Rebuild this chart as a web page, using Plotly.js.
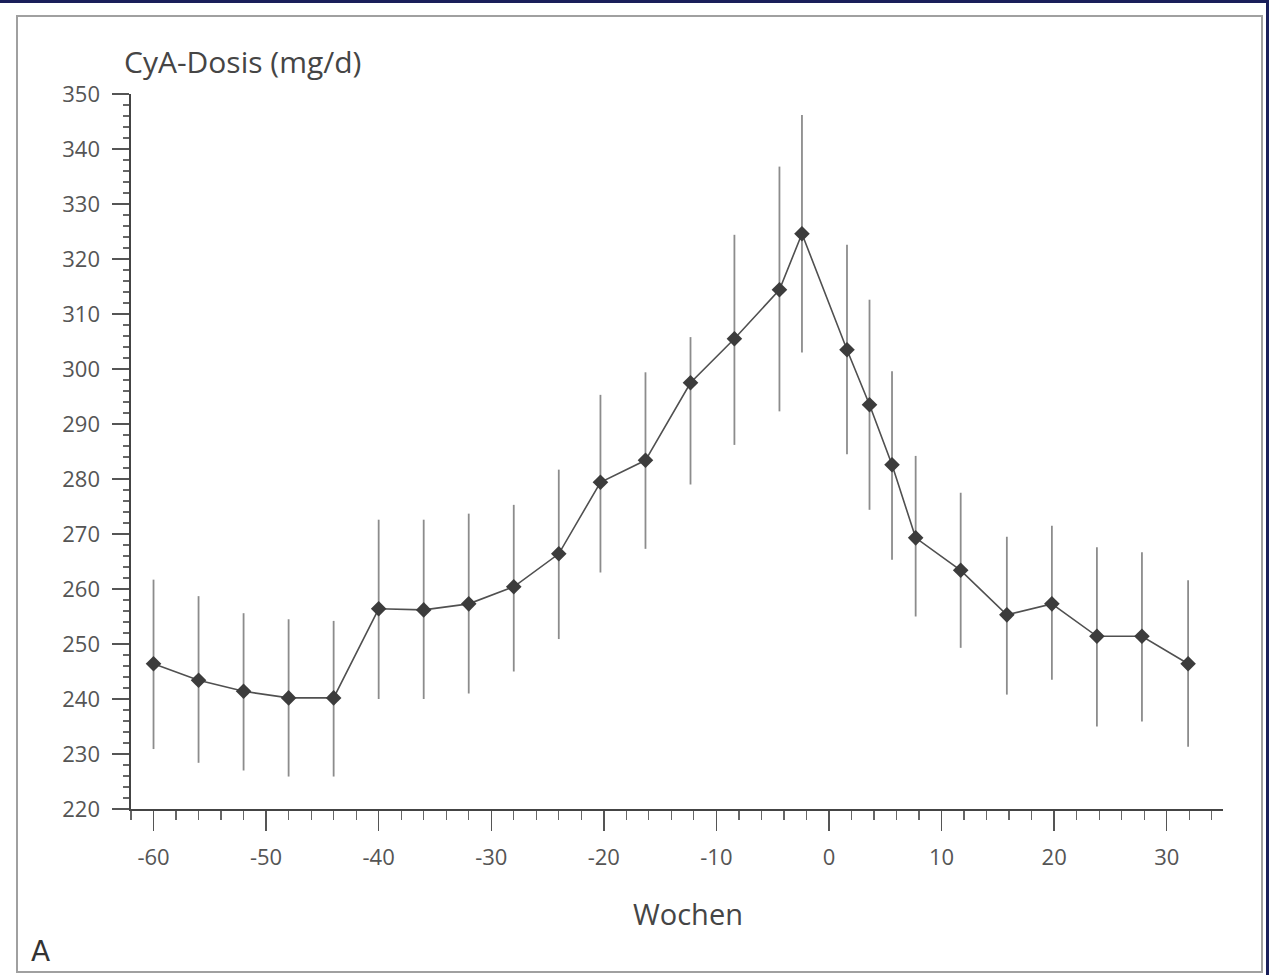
<!DOCTYPE html>
<html>
<head>
<meta charset="utf-8">
<script src="https://cdn.plot.ly/plotly-3.0.1.min.js"></script>
<style>
  html, body { margin: 0; padding: 0; background: #ffffff; }
  #chart { width: 1269px; height: 975px; }
</style>
</head>
<body>
<div id="chart"></div>
<script>
// Weeks relative to switch (x positions)
const weeks = [-60, -56, -52, -48, -44, -40, -36, -32, -28, -24, -20.3, -16.3, -12.3, -8.4, -4.4, -2.4,
               1.6, 3.6, 5.6, 7.7, 11.7, 15.8, 19.8, 23.8, 27.8, 31.9];
// Mean CyA dose (mg/d)
const dose = [246.4, 243.4, 241.4, 240.2, 240.2, 256.4, 256.2, 257.3, 260.4, 266.4, 279.4, 283.4, 297.5, 305.5, 314.4, 324.6,
              303.5, 293.5, 282.6, 269.3, 263.4, 255.3, 257.3, 251.4, 251.4, 246.4];
// Upper and lower ends of the error bars
const upper = [261.7, 258.7, 255.6, 254.5, 254.2, 272.6, 272.6, 273.7, 275.3, 281.7, 295.3, 299.4, 305.8, 324.4, 336.8, 346.2,
               322.6, 312.6, 299.6, 284.2, 277.5, 269.5, 271.5, 267.6, 266.7, 261.6];
const lower = [230.9, 228.4, 227.0, 225.9, 225.9, 240.0, 240.0, 241.0, 245.0, 250.9, 263.0, 267.3, 279.0, 286.2, 292.3, 303.0,
               284.5, 274.4, 265.3, 255.0, 249.3, 240.8, 243.5, 235.0, 235.9, 231.3];

const xTicks = [-60, -50, -40, -30, -20, -10, 0, 10, 20, 30];
const yTicks = [220, 230, 240, 250, 260, 270, 280, 290, 300, 310, 320, 330, 340, 350];

const errPlus = upper.map((u, i) => u - dose[i]);
const errMinus = lower.map((l, i) => dose[i] - l);

const trace = {
  type: 'scatter',
  mode: 'lines+markers',
  x: weeks,
  y: dose,
  line: { color: '#505050', width: 1.6 },
  marker: { symbol: 'diamond', size: 12, color: '#3c3c3c' },
  error_y: {
    type: 'data', symmetric: false,
    array: errPlus, arrayminus: errMinus,
    color: '#8c8c8c', thickness: 1.8, width: 0
  },
  hoverinfo: 'x+y'
};

// plot area in pixels: x 131..1223, y 94..809
const L = 131, R = 1223, T = 94, B = 809;
const px = v => (v - L) / (R - L);
const py = v => (B - v) / (B - T);

const layout = {
  width: 1269, height: 975,
  margin: { l: L, r: 1269 - R, t: T, b: 975 - B, pad: 0 },
  paper_bgcolor: '#ffffff',
  plot_bgcolor: '#ffffff',
  showlegend: false,
  font: { family: 'Open Sans, sans-serif', color: '#555555' },
  xaxis: {
    range: [-62, 35],
    tickvals: xTicks,
    ticktext: xTicks.map(String),
    ticks: 'outside', ticklen: 20, tickwidth: 1.5, tickcolor: '#555555',
    showline: true, linecolor: '#444444', linewidth: 1.6,
    showgrid: false, zeroline: false,
    tickfont: { size: 22, color: '#555555', family: 'Open Sans, sans-serif' },
    ticklabelstandoff: 8,
    minor: { tick0: -62, dtick: 2, ticks: 'outside', ticklen: 9, tickwidth: 1.2, tickcolor: '#666666', showgrid: false }
  },
  yaxis: {
    range: [220, 350],
    tickvals: yTicks,
    ticktext: yTicks.map(String),
    ticks: 'outside', ticklen: 17, tickwidth: 1.5, tickcolor: '#555555',
    showline: true, linecolor: '#444444', linewidth: 1.6,
    showgrid: false, zeroline: false,
    tickfont: { size: 22, color: '#555555', family: 'Open Sans, sans-serif' },
    ticklabelstandoff: 8,
    minor: { tick0: 220, dtick: 2, ticks: 'outside', ticklen: 6, tickwidth: 1.2, tickcolor: '#666666', showgrid: false }
  },
  annotations: [
    { text: 'CyA-Dosis (mg/d)', xref: 'paper', yref: 'paper', x: px(122), y: py(62),
      xanchor: 'left', yanchor: 'middle', showarrow: false,
      font: { size: 30, color: '#454545', family: 'Open Sans, sans-serif' } },
    { text: 'Wochen', xref: 'paper', yref: 'paper', x: px(688), y: py(913),
      xanchor: 'center', yanchor: 'middle', showarrow: false,
      font: { size: 29, color: '#454545', family: 'Open Sans, sans-serif' } },
    { text: 'A', xref: 'paper', yref: 'paper', x: px(40), y: py(951),
      xanchor: 'center', yanchor: 'middle', showarrow: false,
      font: { size: 28, color: '#333333', family: 'DejaVu Sans, sans-serif' } }
  ],
  shapes: [
    { type: 'rect', xref: 'paper', yref: 'paper', x0: px(17), x1: px(1262), y0: py(972), y1: py(16),
      line: { color: '#a0a0a0', width: 2 }, fillcolor: 'rgba(0,0,0,0)', layer: 'below' },
    { type: 'line', xref: 'paper', yref: 'paper', x0: px(0), x1: px(1269), y0: py(1.5), y1: py(1.5),
      line: { color: '#1a1f5a', width: 3 } },
    { type: 'line', xref: 'paper', yref: 'paper', x0: px(1267.5), x1: px(1267.5), y0: py(0), y1: py(975),
      line: { color: '#1a1f5a', width: 3 } }
  ]
};

Plotly.newPlot('chart', [trace], layout, { displayModeBar: false, staticPlot: true });
</script>
</body>
</html>
